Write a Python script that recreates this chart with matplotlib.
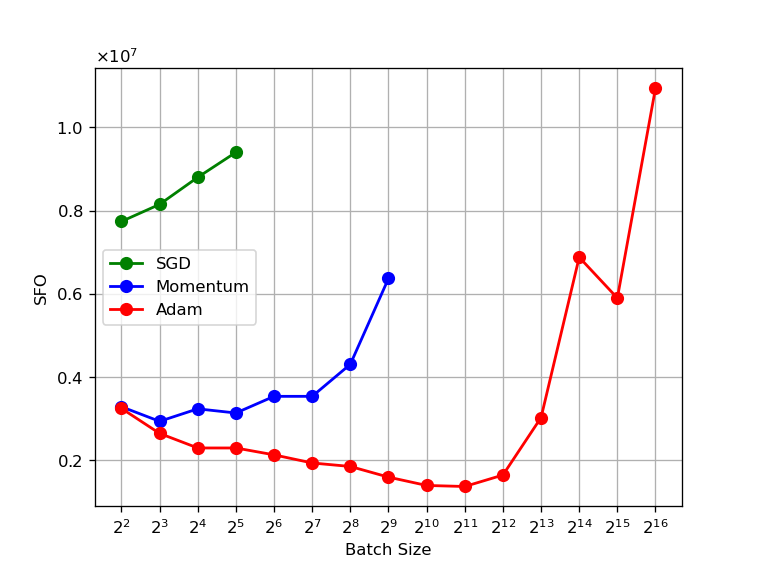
import matplotlib
matplotlib.use("Agg")
import matplotlib.pyplot as plt

plt.rcParams['axes.formatter.use_mathtext'] = True

batch_exp = list(range(2, 17))
batch_sizes = [2 ** e for e in batch_exp]

sgd = [0.774e7, 0.815e7, 0.880e7, 0.940e7]
momentum = [0.329e7, 0.294e7, 0.324e7, 0.314e7, 0.354e7, 0.354e7, 0.431e7, 0.637e7]
adam = [0.325e7, 0.265e7, 0.230e7, 0.230e7, 0.2135e7, 0.194e7, 0.1856e7, 0.160e7,
        0.140e7, 0.1375e7, 0.165e7, 0.303e7, 0.688e7, 0.590e7, 1.094e7]

fig, ax = plt.subplots(figsize=(758 / 118.5, 569 / 118.5), dpi=118.5)
kw = dict(linewidth=1.7, markersize=7)
ax.plot(batch_sizes[:len(sgd)], sgd, 'o-', color='green', label='SGD', **kw)
ax.plot(batch_sizes[:len(momentum)], momentum, 'o-', color='blue', label='Momentum', **kw)
ax.plot(batch_sizes[:len(adam)], adam, 'o-', color='red', label='Adam', **kw)
ax.set_xscale('log', base=2)
ax.set_xticks(batch_sizes)
ax.set_xticklabels([f'$2^{{{e}}}$' for e in batch_exp])
ax.minorticks_off()
ax.set_xlabel('Batch Size')
ax.set_ylabel('SFO')
ax.grid(True)
ax.legend(loc='center left')
fig.savefig('out.png', dpi=118.5)
